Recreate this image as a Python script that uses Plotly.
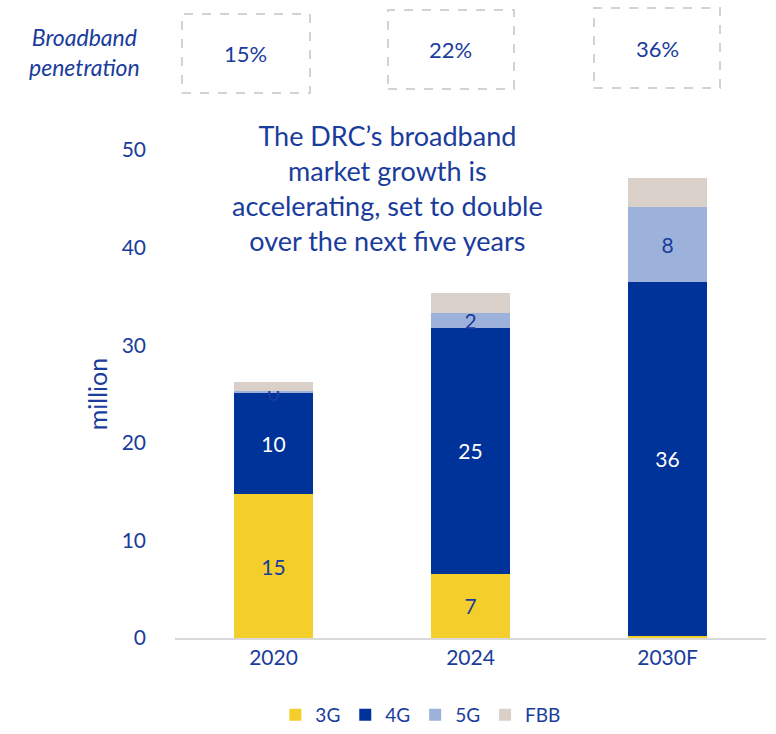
import plotly.graph_objects as go

years = ["2020", "2024", "2030F"]
g3 = [14.75, 6.56, 0.25]
g4 = [10.45, 25.2, 36.2]
g5 = [0.06, 1.58, 7.7]
fbb = [0.95, 2.05, 3.0]
penetration = ["15%", "22%", "36%"]
show3 = [True, True, False]
show4 = [True, True, True]
show5 = [True, True, True]

BLUE = "#1a3c9c"
FONT = "Lato"

def labels(vals, mask):
    return [f"{v:.0f}" if m else "" for v, m in zip(vals, mask)]

fig = go.Figure()
series = [
    ("3G", g3, "#F4CF2B", labels(g3, show3), BLUE),
    ("4G", g4, "#003399", labels(g4, show4), "white"),
    ("5G", g5, "#9DB2DB", labels(g5, show5), BLUE),
    ("FBB", fbb, "#D9D0CA", ["", "", ""], BLUE),
]
for name, vals, col, txt, tcol in series:
    fig.add_trace(go.Bar(
        x=years, y=vals, name=name, marker=dict(color=col, line=dict(width=0)),
        text=txt, textposition="inside", insidetextanchor="middle",
        textangle=0, constraintext="none", cliponaxis=False,
        textfont=dict(color=tcol, size=21, family=FONT),
        hoverinfo="skip",
    ))

fig.update_layout(
    width=776, height=734, barmode="stack", bargap=0.595,
    plot_bgcolor="white", paper_bgcolor="white",
    margin=dict(l=175, r=10, t=150, b=96),
    font=dict(family=FONT, color=BLUE, size=19),
    xaxis=dict(showline=True, linecolor="#d9d9d9", linewidth=2, ticks="",
               tickfont=dict(size=21, color=BLUE), showgrid=False),
    yaxis=dict(range=[0, 50], dtick=10, showgrid=False, zeroline=False,
               showline=False, ticks="", ticklabelstandoff=28,
               tickfont=dict(size=21, color=BLUE),
               title=dict(text="million", font=dict(size=25, color=BLUE), standoff=6)),
    legend=dict(orientation="h", x=0.416, xanchor="center", yref="container",
                y=0.0, yanchor="bottom",
                font=dict(size=19, color=BLUE), itemwidth=30, traceorder="normal"),
    showlegend=True,
)

boxes = [(0.0118, 0.2284, 1.1168, 1.2787), (0.3604, 0.5736, 1.125, 1.2869), (0.709, 0.9222, 1.127, 1.291)]
for (x0, x1, y0, y1), p in zip(boxes, penetration):
    fig.add_shape(type="rect", xref="paper", yref="paper", x0=x0, x1=x1, y0=y0, y1=y1,
                  line=dict(color="#d3d3d3", width=2, dash="dash"), fillcolor="rgba(0,0,0,0)")
    fig.add_annotation(xref="paper", yref="paper", x=(x0 + x1) / 2, y=(y0 + y1) / 2,
                       xanchor="center", yanchor="middle",
                       text=p, showarrow=False, font=dict(size=22, color=BLUE, family=FONT))

fig.add_annotation(xref="paper", yref="paper", x=-0.1523, y=1.2,
                   xanchor="center", yanchor="middle",
                   text="<i>Broadband<br>penetration</i>", showarrow=False,
                   font=dict(size=23, color=BLUE, family=FONT))

fig.add_annotation(xref="paper", yref="paper", x=0.3604, y=0.922,
                   xanchor="center", yanchor="middle",
                   text="The DRC’s broadband<br>market growth is<br>accelerating, set to double<br>over the next five years",
                   showarrow=False, font=dict(size=27, color=BLUE, family=FONT))

fig.write_html("out.html")
